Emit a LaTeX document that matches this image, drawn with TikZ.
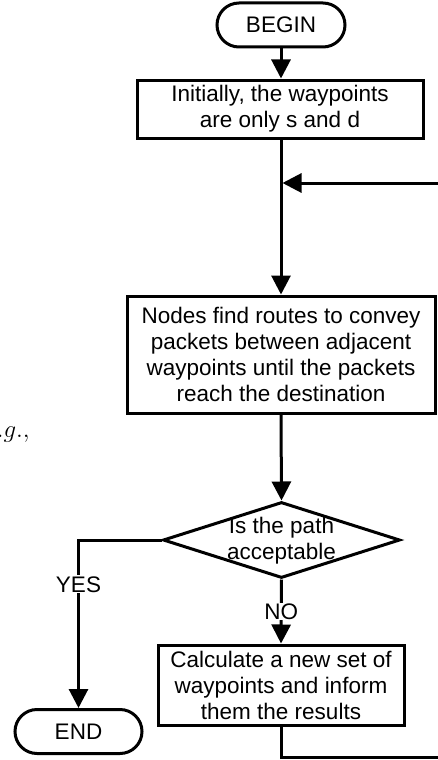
\documentclass[tikz,border=0pt]{standalone}
\usepackage{fontspec}
\setmainfont{Liberation Sans}
\usetikzlibrary{arrows.meta,shapes.misc,shapes.geometric}

\tikzset{
  flow/.style={line width=3pt},
  arr/.style={flow,-{Triangle[width=19pt,length=19pt]}},
  txt/.style={font=\fontsize{22.5}{26}\selectfont, align=center},
  terminal/.style={txt, rounded rectangle, draw, line width=3pt,
    minimum width=#1, minimum height=44pt, inner sep=0pt},
  procbox/.style={txt, draw, line width=3pt, inner sep=0pt},
  decision/.style={diamond, draw, line width=3pt, minimum width=237pt,
    minimum height=76pt, inner sep=0pt},
  tag/.style={txt, fill=white, inner sep=1pt}
}

\begin{document}
\begin{tikzpicture}[x=1pt,y=-1pt]
\useasboundingbox (0,0) rectangle (438,760);
\clip (0,0) rectangle (438,760);

% fragment of running text beside the chart
\node[anchor=base west, inner sep=0pt, font=\fontsize{27}{30}\selectfont]
  (frag) at (-14.6,437) {$e.g.,$};

% terminals
\node[terminal=128pt] (begin) at (281,25) {BEGIN};
\node[terminal=127pt] (end) at (78.5,731.5) {END};

% process steps
\node[procbox, minimum width=286pt, minimum height=58pt] (init) at (280,109)
  {Initially, the waypoints\\are only s and d};
\node[procbox, minimum width=308pt, minimum height=117pt] (route) at (281,354.5)
  {Nodes find routes to convey\\packets between adjacent\\waypoints until the packets\\reach the destination};
\node[procbox, minimum width=246pt, minimum height=80pt] (calc) at (281,685)
  {Calculate a new set of\\waypoints and inform\\them the results};

% decision
\node[decision] (dec) at (281.5,540) {};
\node[txt, inner sep=0pt] (dectext) at (281.5,541) {Is the path\\acceptable};

% loop-back route (leaves the page on the right)
\coordinate (join) at (282.5,183);
\coordinate (loopbl) at (281,757);
\coordinate (loopbr) at (455,757);
\coordinate (looptr) at (455,183);

% connectors
\draw[arr] (begin.south) -- (begin.south |- init.north);
\draw[arr] (route.north |- init.south) -- (route.north);
\draw[arr] (route.south) -- (dec.north);
\draw[arr] (dec.west) -| node[tag, pos=0.632] (yes) {YES} (end.north);
\draw[arr] (dec.south) -- node[tag, pos=0.5] (no) {NO} (calc.north);
\draw[flow] (calc.south) -- (loopbl) -- (loopbr) -- (looptr);
\draw[arr] (looptr) -- (join);
\end{tikzpicture}
\end{document}
